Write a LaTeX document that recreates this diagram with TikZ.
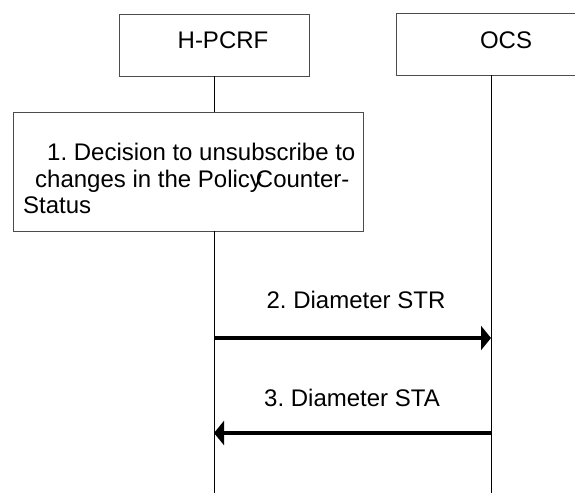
\documentclass[tikz,border=0pt]{standalone}
\usepackage{fontspec}
\setmainfont{Liberation Sans}
\usetikzlibrary{arrows.meta,positioning,calc}

\begin{document}
\frenchspacing
\begin{tikzpicture}[x=1pt, y=-1pt, font=\fontsize{24}{27}\selectfont,
    entity/.style={draw=black!70, thin, minimum width=190pt, minimum height=62pt, inner sep=0pt},
    stepbox/.style={draw=black!70, thin, inner sep=0pt},
    lifeline/.style={black, thin},
    msg/.style={line width=4.8pt, -{Triangle[length=10pt,width=24pt]}},
    txt/.style={inner sep=0pt, anchor=base}]
  \useasboundingbox (0,0) rectangle (575,493);
  \clip (0,0) rectangle (575,493);
  % --- entities ---
  \node[entity] (hpcrf) at (214,45) {};
  \node[entity] (ocs)   at (491,44) {};
  \node[txt] (hpcrf-lbl) at (223,48.5) {H-PCRF};
  \node[txt] (ocs-lbl)   at (506,48.5) {OCS};
  % --- step 1 ---
  \node[stepbox, minimum width=350pt, minimum height=119pt] (decision) at (188,171.5) {};
  \node[txt, anchor=base west] (dec-a) at (47,160) {1. Decision to unsubscribe to};
  \node[txt, anchor=base west] (dec-b) at (35,187) {changes in the Policy\kern-6ptCounter-};
  \node[txt, anchor=base west] (dec-c) at (23,213) {Status};
  % --- lifelines ---
  \coordinate (hpcrf-end) at (214,493);
  \coordinate (ocs-end)   at (491,493);
  \draw[lifeline] (hpcrf.south) -- (decision.north -| hpcrf.south);
  \draw[lifeline] (decision.south -| hpcrf.south) -- (hpcrf-end);
  \draw[lifeline] (ocs.south) -- (ocs-end);
  % --- messages ---
  \coordinate (str-from) at (214,338);
  \coordinate (str-to)   at (491,338);
  \coordinate (sta-from) at (491,433);
  \coordinate (sta-to)   at (214,433);
  \draw[msg] (str-from) -- (str-to);
  \draw[msg] (sta-from) -- (sta-to);
  \node[txt] (str-lbl) at (356,308) {2. Diameter STR};
  \node[txt] (sta-lbl) at (352,406.5) {3. Diameter STA};
\end{tikzpicture}
\end{document}
